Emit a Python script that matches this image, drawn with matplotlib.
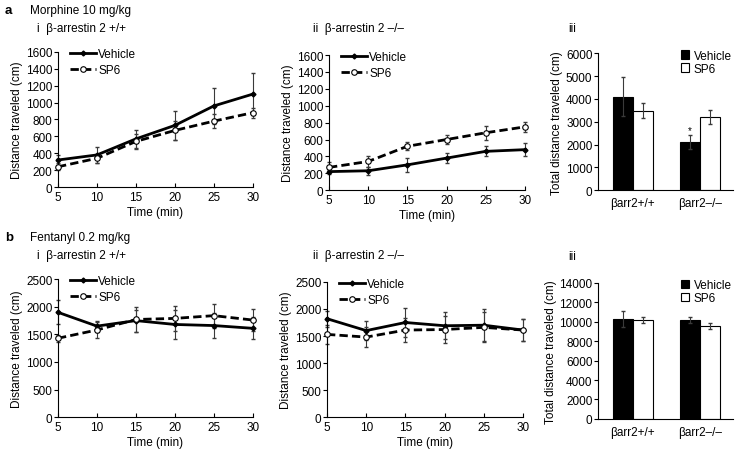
import numpy as np
import matplotlib
matplotlib.use("Agg")
from matplotlib import pyplot as plt

plt.rcParams['font.family'] = ['Liberation Sans', 'DejaVu Sans']
plt.rcParams['font.size'] = 8

# time points (min)
t = [5, 10, 15, 20, 25, 30]

# a: morphine 10 mg/kg
a1_veh = [320, 380, 570, 730, 960, 1100]
a1_veh_err = [60, 90, 110, 170, 210, 250]
a1_sp6 = [240, 340, 540, 670, 780, 880]
a1_sp6_err = [40, 50, 90, 110, 80, 60]

a2_veh = [220, 230, 300, 380, 460, 480]
a2_veh_err = [30, 50, 80, 60, 60, 80]
a2_sp6 = [270, 340, 520, 600, 680, 750]
a2_sp6_err = [60, 60, 50, 50, 80, 60]

# b: fentanyl 0.2 mg/kg
b1_veh = [1900, 1650, 1750, 1680, 1660, 1610]
b1_veh_err = [220, 100, 200, 270, 220, 200]
b1_sp6 = [1430, 1580, 1770, 1790, 1840, 1760]
b1_sp6_err = [60, 150, 220, 230, 220, 200]

b2_veh = [1820, 1600, 1750, 1690, 1700, 1610]
b2_veh_err = [150, 170, 260, 250, 300, 200]
b2_sp6 = [1530, 1480, 1610, 1620, 1660, 1610]
b2_sp6_err = [180, 180, 230, 250, 280, 200]

# totals
groups = ['βarr2+/+', 'βarr2–/–']
a3_veh = [4100, 2100]
a3_veh_err = [850, 300]
a3_sp6 = [3480, 3200]
a3_sp6_err = [320, 320]
b3_veh = [10300, 10200]
b3_veh_err = [800, 300]
b3_sp6 = [10200, 9600]
b3_sp6_err = [300, 300]

fig = plt.figure(figsize=(7.35, 4.52), dpi=100)
EC = '#3a3a3a'


def line_panel(rect, veh, veh_err, sp6, sp6_err, ymax, ystep):
    ax = fig.add_axes(rect)
    ax.errorbar(t, veh, yerr=veh_err, fmt='none', ecolor=EC, elinewidth=0.8,
                capsize=1.5, clip_on=False)
    ax.errorbar(t, sp6, yerr=sp6_err, fmt='none', ecolor=EC, elinewidth=0.8,
                capsize=1.5, clip_on=False)
    ax.plot(t, veh, color='black', lw=2, marker='D', ms=2.5, label='Vehicle',
            clip_on=False, zorder=3)
    ax.plot(t, sp6, color='black', lw=2, ls=(0, (3, 1.5)), marker='o', ms=4,
            mfc='white', mec='black', mew=0.8, label='SP6', clip_on=False, zorder=3)
    ax.set_xlim(5, 30)
    ax.set_ylim(0, ymax)
    ax.set_xticks(t)
    ax.set_yticks(np.arange(0, ymax + 1, ystep))
    ax.spines['top'].set_visible(False)
    ax.spines['right'].set_visible(False)
    ax.tick_params(axis='x', direction='in', length=3, labelsize=8.5, pad=3)
    ax.tick_params(axis='y', direction='out', length=3, labelsize=8.5, pad=1)
    ax.set_xlabel('Time (min)', fontsize=8.5, labelpad=2)
    ax.set_ylabel('Distance traveled (cm)', fontsize=8.5, labelpad=2)
    ax.legend(loc='upper left', bbox_to_anchor=(0.03, 1.07), frameon=False,
              fontsize=8.5, handlelength=2.2, handletextpad=0.2, labelspacing=0.3,
              borderpad=0)
    return ax


def bar_panel(rect, veh, veh_err, sp6, sp6_err, ymax, ystep, star=None):
    ax = fig.add_axes(rect)
    x = np.arange(len(groups))
    w = 0.3
    ekw = dict(ecolor=EC, elinewidth=0.8, capsize=1.5)
    ax.bar(x - w / 2, veh, w, yerr=veh_err, color='black', edgecolor='black',
           lw=0.8, label='Vehicle', error_kw=ekw)
    ax.bar(x + w / 2, sp6, w, yerr=sp6_err, color='white', edgecolor='black',
           lw=0.8, label='SP6', error_kw=ekw)
    if star is not None:
        ax.text(star - w / 2, veh[star] + veh_err[star] + ymax * 0.005, '*',
                ha='center', va='bottom', fontsize=7)
    ax.set_xlim(-0.52, 1.49)
    ax.set_ylim(0, ymax)
    ax.set_xticks(x)
    ax.set_xticklabels(groups, fontsize=8.5)
    ax.set_yticks(np.arange(0, ymax + 1, ystep))
    ax.spines['top'].set_visible(False)
    ax.spines['right'].set_visible(False)
    ax.tick_params(axis='x', length=0, pad=5)
    ax.tick_params(axis='y', direction='out', length=3, labelsize=8.5, pad=1)
    ax.set_ylabel('Total distance traveled (cm)', fontsize=8.5, labelpad=2)
    ax.legend(loc='upper left', bbox_to_anchor=(0.57, 1.07), frameon=False,
              fontsize=8.5, handlelength=0.7, handleheight=0.7, handletextpad=0.4,
              labelspacing=0.1, borderpad=0)
    return ax


line_panel([0.0789, 0.584, 0.265, 0.299], a1_veh, a1_veh_err, a1_sp6, a1_sp6_err, 1600, 200)
line_panel([0.4476, 0.577, 0.2667, 0.299], a2_veh, a2_veh_err, a2_sp6, a2_sp6_err, 1600, 200)
bar_panel([0.8136, 0.577, 0.1837, 0.303], a3_veh, a3_veh_err, a3_sp6, a3_sp6_err, 6000, 1000, star=1)

line_panel([0.0789, 0.075, 0.265, 0.305], b1_veh, b1_veh_err, b1_sp6, b1_sp6_err, 2500, 500)
line_panel([0.4449, 0.075, 0.2667, 0.299], b2_veh, b2_veh_err, b2_sp6, b2_sp6_err, 2500, 500)
bar_panel([0.8136, 0.071, 0.1837, 0.301], b3_veh, b3_veh_err, b3_sp6, b3_sp6_err, 14000, 2000)

# panel headings
fig.text(5 / 735, 1 - 11 / 452, 'a', fontsize=9.5, fontweight='bold', va='center')
fig.text(30 / 735, 1 - 11 / 452, 'Morphine 10 mg/kg', fontsize=8.5, va='center')
fig.text(37 / 735, 1 - 29 / 452, 'i  β-arrestin 2 +/+', fontsize=8.5, va='center')
fig.text(313 / 735, 1 - 29 / 452, 'ii  β-arrestin 2 –/–', fontsize=8.5, va='center')
fig.text(568 / 735, 1 - 29 / 452, 'iii', fontsize=8.5, va='center')

fig.text(5 / 735, 1 - 238 / 452, 'b', fontsize=9.5, fontweight='bold', va='center')
fig.text(30 / 735, 1 - 238 / 452, 'Fentanyl 0.2 mg/kg', fontsize=8.5, va='center')
fig.text(37 / 735, 1 - 256 / 452, 'i  β-arrestin 2 +/+', fontsize=8.5, va='center')
fig.text(313 / 735, 1 - 256 / 452, 'ii  β-arrestin 2 –/–', fontsize=8.5, va='center')
fig.text(568 / 735, 1 - 257 / 452, 'iii', fontsize=8.5, va='center')

fig.savefig('out.png', dpi=100)
